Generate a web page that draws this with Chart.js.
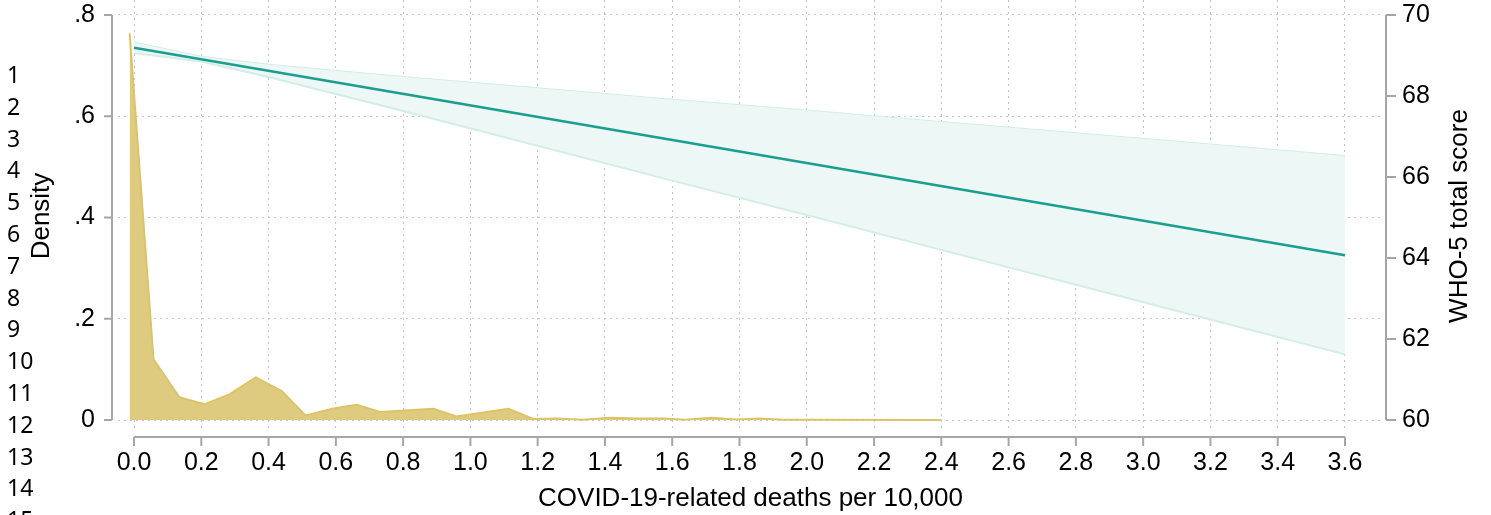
<!DOCTYPE html>
<html>
<head>
<meta charset="utf-8">
<title>WHO-5 total score and COVID-19-related deaths</title>
<script src="https://cdn.jsdelivr.net/npm/chart.js@4.4.1/dist/chart.umd.min.js"></script>
<style>
  body { margin: 0; background: #fff; }
  #wrap { position: relative; width: 1491px; height: 515px; overflow: hidden; }
  #line-numbers {
    position: absolute; left: 7px; top: 59px;
    font-family: "Noto Sans", sans-serif; font-size: 23px; line-height: 31.8px; color: #000;
  }
</style>
</head>
<body>
<div id="wrap">
  <canvas id="chart" width="1491" height="515"></canvas>
  <div id="line-numbers"></div>
</div>
<script>
// Density of deaths per 10,000 (kernel density)
const densityX = [-0.013, 0.058, 0.135, 0.209, 0.285, 0.362, 0.439, 0.510, 0.593, 0.662, 0.731, 0.890, 0.959, 1.113, 1.187,
    1.257, 1.335, 1.415, 1.50, 1.573, 1.638, 1.718, 1.79, 1.86, 1.93, 2.0, 2.4];
const densityY = [0.764, 0.120, 0.045, 0.031, 0.051, 0.084, 0.057, 0.009, 0.023, 0.030, 0.016, 0.022, 0.007, 0.022, 0.002,
    0.003, 0.0005, 0.0045, 0.003, 0.003, 0.0005, 0.0045, 0.001, 0.003, 0.0005, 0.0004, 0];

// Linear fit of WHO-5 total score with 95% CI
const fitX = [0, 3.6];
const fitY = [69.19, 64.07];
const ciX = [0, 0.2, 0.4, 0.8, 1.2, 1.6, 2.0, 2.4, 2.8, 3.2, 3.6];
const ciUpper = [69.32, 68.97, 68.77, 68.47, 68.19, 67.91, 67.64, 67.36, 67.08, 66.80, 66.52];
const ciLower = [69.06, 68.85, 68.47, 67.63, 66.77, 65.91, 65.06, 64.20, 63.34, 62.48, 61.62];

// Tick labels
const xTicks = [0, 0.2, 0.4, 0.6, 0.8, 1.0, 1.2, 1.4, 1.6, 1.8, 2.0, 2.2, 2.4, 2.6, 2.8, 3.0, 3.2, 3.4, 3.6];
const xTickLabels = xTicks.map(v => v.toFixed(1));
const densityTicks = [0, 0.2, 0.4, 0.6, 0.8];
const densityTickLabels = ['0', '.2', '.4', '.6', '.8'];
const scoreTicks = [60, 62, 64, 66, 68, 70];

const AXIS_COLOR = '#a6a6a6';
const GRID_COLOR = '#c4c4c4';
const FONT = '"Liberation Sans", Arial, sans-serif';

// Line numbers down the left margin
document.getElementById('line-numbers').innerHTML =
    Array.from({ length: 15 }, (_, i) => i + 1).join('<br>');

const toPoints = (xs, ys) => xs.map((x, i) => ({ x: x, y: ys[i] }));

// Keep the plot area fixed: no extra room for edge labels
const noEdgePadding = s => {
    s.paddingTop = 0;
    s.paddingBottom = 0;
    s.paddingLeft = 0;
    s.paddingRight = 0;
};

/**
 * Draw Stata-like axis lines that only span the labelled range
 */
const stataAxes = {
    id: 'stataAxes',
    afterDraw(chart) {
        const { ctx, chartArea, scales } = chart;
        ctx.save();
        ctx.strokeStyle = AXIS_COLOR;
        ctx.lineWidth = 2;

        // left axis
        const lx = chartArea.left - 6;
        ctx.beginPath();
        ctx.moveTo(lx, scales.y.getPixelForValue(0.8));
        ctx.lineTo(lx, scales.y.getPixelForValue(0));
        densityTicks.forEach(v => {
            const py = scales.y.getPixelForValue(v);
            ctx.moveTo(lx, py);
            ctx.lineTo(lx - 8, py);
        });
        ctx.stroke();

        // right axis
        const rx = chartArea.right + 3;
        ctx.beginPath();
        ctx.moveTo(rx, scales.y2.getPixelForValue(70));
        ctx.lineTo(rx, scales.y2.getPixelForValue(60));
        scoreTicks.forEach(v => {
            const py = scales.y2.getPixelForValue(v);
            ctx.moveTo(rx, py);
            ctx.lineTo(rx + 10, py);
        });
        ctx.stroke();

        // bottom axis
        const by = chartArea.bottom + 5;
        ctx.beginPath();
        ctx.moveTo(scales.x.getPixelForValue(0), by);
        ctx.lineTo(scales.x.getPixelForValue(3.6), by);
        xTicks.forEach(v => {
            const px = scales.x.getPixelForValue(v);
            ctx.moveTo(px, by);
            ctx.lineTo(px, by + 9);
        });
        ctx.stroke();

        // right axis title, reading bottom to top
        ctx.fillStyle = '#000';
        ctx.font = '26px ' + FONT;
        ctx.textAlign = 'center';
        ctx.textBaseline = 'middle';
        ctx.translate(1460, (scales.y2.top + scales.y2.bottom) / 2);
        ctx.rotate(-Math.PI / 2);
        ctx.fillText('WHO-5 total score', 0, 0);
        ctx.restore();
    }
};

const ctx = document.getElementById('chart').getContext('2d');
const chart = new Chart(ctx, {
    type: 'line',
    data: {
        datasets: [
            {
                label: '95% CI upper',
                data: toPoints(ciX, ciUpper),
                yAxisID: 'y2',
                borderColor: '#d3ede9',
                borderWidth: 2,
                pointRadius: 0,
                fill: false,
                order: 3
            },
            {
                label: '95% CI lower',
                data: toPoints(ciX, ciLower),
                yAxisID: 'y2',
                borderColor: '#d3ede9',
                borderWidth: 2,
                backgroundColor: '#edf7f5',
                pointRadius: 0,
                fill: '-1',
                order: 2
            },
            {
                label: 'Density',
                data: toPoints(densityX, densityY),
                yAxisID: 'y',
                borderColor: '#dcc466',
                borderWidth: 2,
                backgroundColor: '#dfcb80',
                pointRadius: 0,
                fill: 'origin',
                order: 4
            },
            {
                label: 'Linear fit',
                data: toPoints(fitX, fitY),
                yAxisID: 'y2',
                borderColor: '#1c9e8e',
                borderWidth: 2.5,
                pointRadius: 0,
                fill: false,
                order: 1
            }
        ]
    },
    options: {
        responsive: false,
        animation: false,
        layout: { padding: 0 },
        plugins: {
            legend: { display: false },
            tooltip: { enabled: false }
        },
        elements: { line: { tension: 0 } },
        scales: {
            x: {
                type: 'linear',
                position: 'bottom',
                min: -0.0476,
                max: 3.713,
                afterBuildTicks: s => { s.ticks = xTicks.map(v => ({ value: v })); },
                afterFit: s => { s.height = 83; noEdgePadding(s); },
                grid: { color: GRID_COLOR, lineWidth: 1, drawTicks: false },
                border: { display: false, dash: [2, 4] },
                ticks: {
                    padding: 16,
                    color: '#000',
                    font: { family: FONT, size: 25 },
                    maxRotation: 0,
                    autoSkip: false,
                    callback: (v, i) => xTickLabels[i]
                },
                title: {
                    display: true,
                    text: 'COVID-19-related deaths per 10,000',
                    color: '#000',
                    font: { family: FONT, size: 26 },
                    padding: { top: 0, bottom: 1 }
                }
            },
            y: {
                position: 'left',
                min: -0.0237,
                max: 0.8296,
                afterBuildTicks: s => { s.ticks = densityTicks.map(v => ({ value: v })); },
                afterFit: s => { s.width = 118; noEdgePadding(s); },
                grid: { color: GRID_COLOR, lineWidth: 1, drawTicks: false },
                border: { display: false, dash: [2, 4] },
                ticks: {
                    padding: 23,
                    color: '#000',
                    font: { family: FONT, size: 25 },
                    callback: (v, i) => densityTickLabels[i]
                },
                title: {
                    display: true,
                    text: 'Density',
                    color: '#000',
                    font: { family: FONT, size: 26 },
                    padding: { top: 26, bottom: 0 }
                }
            },
            y2: {
                position: 'right',
                min: 59.704,
                max: 70.37,
                afterBuildTicks: s => { s.ticks = scoreTicks.map(v => ({ value: v })); },
                afterFit: s => { s.width = 108; noEdgePadding(s); },
                grid: { display: false, drawTicks: false },
                border: { display: false },
                ticks: {
                    padding: 19,
                    color: '#000',
                    font: { family: FONT, size: 25 },
                    callback: v => String(v)
                }
            }
        }
    },
    plugins: [stataAxes]
});
</script>
</body>
</html>
